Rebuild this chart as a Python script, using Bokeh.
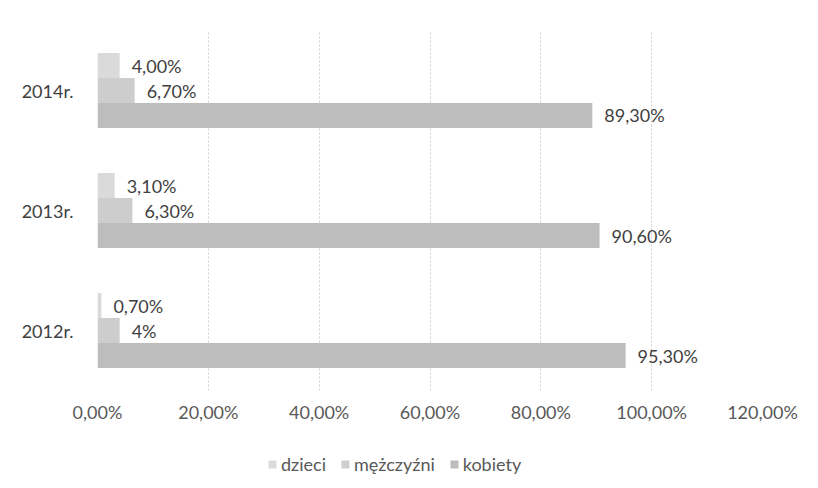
from bokeh.plotting import figure
from bokeh.layouts import column
from bokeh.models import ColumnDataSource, FactorRange, Range1d, Legend, LegendItem, CustomJSTickFormatter
from bokeh.transform import dodge
from bokeh.core.properties import value
from bokeh.embed import file_html
from bokeh.resources import INLINE

years = ["2012r.", "2013r.", "2014r."]
dzieci = [0.70, 3.10, 4.00]
mezczyzni = [4.0, 6.30, 6.70]
kobiety = [95.30, 90.60, 89.30]
dzieci_labels = ["0,70%", "3,10%", "4,00%"]
mezczyzni_labels = ["4%", "6,30%", "6,70%"]
kobiety_labels = ["95,30%", "90,60%", "89,30%"]
x_ticks = [0, 20, 40, 60, 80, 100, 120]
series_names = ["dzieci", "mężczyźni", "kobiety"]
colors = ["#dadada", "#cdcdcd", "#bdbdbd"]

FONT = "Lato"

p = figure(width=818, height=440, output_backend="svg", toolbar_location=None,
           y_range=FactorRange(*years), x_range=Range1d(0, 120),
           min_border_left=97, min_border_right=56, min_border_top=30, min_border_bottom=50)
p.outline_line_color = None
p.background_fill_color = "white"

bw = 25 / 120
src = ColumnDataSource(dict(year=years, d=dzieci, m=mezczyzni, k=kobiety,
                            dl=dzieci_labels, ml=mezczyzni_labels, kl=kobiety_labels))

for col, lab, off, color in [("d", "dl", bw, colors[0]), ("m", "ml", 0, colors[1]), ("k", "kl", -bw, colors[2])]:
    p.hbar(y=dodge("year", off, range=p.y_range), right=col, left=0, height=bw,
           source=src, fill_color=color, line_color=None)
    p.text(x=col, y=dodge("year", off, range=p.y_range), text=lab, source=src,
           x_offset=12, text_baseline="middle", text_align="left",
           text_font=value(FONT), text_font_size="18px", text_color="#3f3f3f")

p.xgrid.grid_line_color = "#cfcfcf"
p.xgrid.grid_line_dash = "2 2"
p.ygrid.grid_line_color = None
p.xaxis.ticker = x_ticks
p.xaxis.formatter = CustomJSTickFormatter(code="return tick.toFixed(2).replace('.', ',') + '%';")
for ax in (p.xaxis[0], p.yaxis[0]):
    ax.axis_line_color = None
    ax.major_tick_line_color = None
    ax.minor_tick_line_color = None
    ax.major_label_text_font = FONT
    ax.major_label_text_font_size = "18px"
p.xaxis.major_label_text_color = "#595959"
p.yaxis.major_label_text_color = "#404040"
p.xaxis.major_label_standoff = 4
p.yaxis.major_label_standoff = 18

# legend strip below the chart
lg = figure(width=818, height=48, output_backend="svg", toolbar_location=None,
            x_axis_type=None, y_axis_type=None, min_border=0,
            x_range=Range1d(0, 1), y_range=Range1d(0, 1))
lg.outline_line_color = None
lg.grid.visible = False
items = []
for name, color in zip(series_names, colors):
    # zero-length bar outside the visible range: only its legend swatch shows
    r = lg.hbar(y=[-5], right=[0], left=0, height=1, fill_color=color, line_color=None)
    items.append(LegendItem(label=name, renderers=[r]))
legend = Legend(items=items, orientation="horizontal", location=(170, 13),
                label_text_font=FONT, label_text_font_size="18px", label_text_color="#595959",
                glyph_width=10, glyph_height=10, spacing=14, label_standoff=4,
                border_line_color=None, background_fill_alpha=0, margin=0, padding=4)
lg.add_layout(legend, "center")

layout = column(p, lg, spacing=0)
open("out.html", "w").write(file_html(layout, INLINE))
